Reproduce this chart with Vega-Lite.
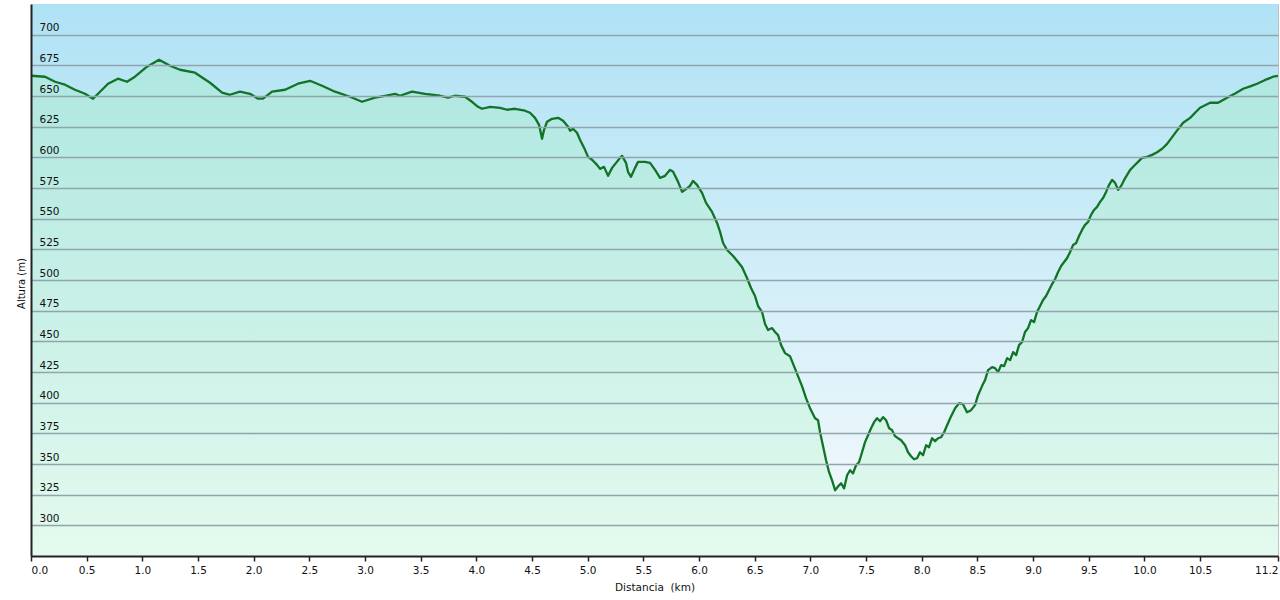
{
  "$schema": "https://vega.github.io/schema/vega-lite/v6.json",
  "width": 1247,
  "height": 552,
  "autosize": {"type": "none"},
  "padding": {"left": 31, "top": 4, "right": 2, "bottom": 44},
  "background": "white",
  "config": {"view": {"stroke": "#b9c3c7", "strokeWidth": 1}, "font": "DejaVu Sans"},
  "datasets": {
    "profile": [
      {"d": 0.0, "h": 666.5}, {"d": 0.126, "h": 665.7}, {"d": 0.216, "h": 661.6}, {"d": 0.305, "h": 659.2},
      {"d": 0.395, "h": 655.1}, {"d": 0.485, "h": 651.8}, {"d": 0.557, "h": 647.8}, {"d": 0.62, "h": 653.5},
      {"d": 0.692, "h": 660.0}, {"d": 0.781, "h": 664.1}, {"d": 0.862, "h": 661.6}, {"d": 0.934, "h": 665.7},
      {"d": 1.042, "h": 673.9}, {"d": 1.15, "h": 679.6}, {"d": 1.249, "h": 674.7}, {"d": 1.338, "h": 671.4},
      {"d": 1.473, "h": 669.0}, {"d": 1.608, "h": 660.8}, {"d": 1.716, "h": 652.7}, {"d": 1.787, "h": 651.0},
      {"d": 1.877, "h": 653.5}, {"d": 1.967, "h": 651.8}, {"d": 2.039, "h": 647.8}, {"d": 2.084, "h": 647.8},
      {"d": 2.165, "h": 653.5}, {"d": 2.282, "h": 655.1}, {"d": 2.398, "h": 660.0}, {"d": 2.506, "h": 662.4},
      {"d": 2.614, "h": 658.4}, {"d": 2.731, "h": 653.5}, {"d": 2.865, "h": 649.4}, {"d": 2.973, "h": 645.3},
      {"d": 3.09, "h": 648.6}, {"d": 3.18, "h": 650.2}, {"d": 3.27, "h": 651.8}, {"d": 3.314, "h": 650.2},
      {"d": 3.422, "h": 653.5}, {"d": 3.539, "h": 651.8}, {"d": 3.674, "h": 650.2}, {"d": 3.746, "h": 648.6},
      {"d": 3.808, "h": 650.2}, {"d": 3.898, "h": 649.4}, {"d": 3.961, "h": 645.3}, {"d": 4.015, "h": 641.2},
      {"d": 4.051, "h": 639.6}, {"d": 4.123, "h": 641.2}, {"d": 4.213, "h": 640.4}, {"d": 4.276, "h": 638.8},
      {"d": 4.347, "h": 639.6}, {"d": 4.437, "h": 638.0}, {"d": 4.482, "h": 636.3}, {"d": 4.527, "h": 632.2},
      {"d": 4.563, "h": 626.5}, {"d": 4.59, "h": 615.1}, {"d": 4.608, "h": 622.4}, {"d": 4.635, "h": 629.0},
      {"d": 4.68, "h": 631.4}, {"d": 4.734, "h": 632.2}, {"d": 4.779, "h": 629.8}, {"d": 4.824, "h": 624.9},
      {"d": 4.842, "h": 621.6}, {"d": 4.868, "h": 623.3}, {"d": 4.904, "h": 620.0}, {"d": 4.931, "h": 614.3},
      {"d": 4.976, "h": 606.1}, {"d": 5.003, "h": 600.4}, {"d": 5.039, "h": 598.0}, {"d": 5.084, "h": 593.9},
      {"d": 5.111, "h": 590.6}, {"d": 5.147, "h": 592.2}, {"d": 5.183, "h": 584.9}, {"d": 5.219, "h": 591.4},
      {"d": 5.255, "h": 595.5}, {"d": 5.291, "h": 599.6}, {"d": 5.309, "h": 601.2}, {"d": 5.344, "h": 595.5},
      {"d": 5.362, "h": 588.2}, {"d": 5.389, "h": 584.1}, {"d": 5.425, "h": 591.4}, {"d": 5.452, "h": 596.3},
      {"d": 5.515, "h": 596.3}, {"d": 5.56, "h": 595.5}, {"d": 5.605, "h": 589.8}, {"d": 5.65, "h": 583.3},
      {"d": 5.695, "h": 584.9}, {"d": 5.74, "h": 589.8}, {"d": 5.767, "h": 588.2}, {"d": 5.812, "h": 580.0},
      {"d": 5.848, "h": 571.8}, {"d": 5.874, "h": 573.5}, {"d": 5.919, "h": 576.7}, {"d": 5.946, "h": 580.8},
      {"d": 5.982, "h": 577.6}, {"d": 6.027, "h": 571.0}, {"d": 6.063, "h": 562.9}, {"d": 6.117, "h": 555.5},
      {"d": 6.162, "h": 546.5}, {"d": 6.189, "h": 539.2}, {"d": 6.216, "h": 530.2}, {"d": 6.252, "h": 524.5},
      {"d": 6.306, "h": 519.6}, {"d": 6.35, "h": 514.7}, {"d": 6.386, "h": 510.6}, {"d": 6.431, "h": 501.6},
      {"d": 6.467, "h": 493.5}, {"d": 6.503, "h": 486.9}, {"d": 6.53, "h": 478.8}, {"d": 6.566, "h": 473.9},
      {"d": 6.593, "h": 464.1}, {"d": 6.62, "h": 459.2}, {"d": 6.656, "h": 460.8}, {"d": 6.683, "h": 457.6},
      {"d": 6.71, "h": 455.1}, {"d": 6.737, "h": 446.9}, {"d": 6.773, "h": 440.4}, {"d": 6.817, "h": 437.9},
      {"d": 6.853, "h": 429.8}, {"d": 6.889, "h": 421.6}, {"d": 6.925, "h": 413.5}, {"d": 6.961, "h": 403.7},
      {"d": 6.997, "h": 395.5}, {"d": 7.042, "h": 387.3}, {"d": 7.069, "h": 385.7}, {"d": 7.087, "h": 375.9},
      {"d": 7.114, "h": 364.5}, {"d": 7.141, "h": 353.1}, {"d": 7.168, "h": 343.3}, {"d": 7.195, "h": 336.7},
      {"d": 7.222, "h": 328.6}, {"d": 7.249, "h": 331.8}, {"d": 7.276, "h": 334.3}, {"d": 7.303, "h": 330.2},
      {"d": 7.33, "h": 340.8}, {"d": 7.356, "h": 344.9}, {"d": 7.383, "h": 342.4}, {"d": 7.41, "h": 349.0},
      {"d": 7.437, "h": 351.4}, {"d": 7.464, "h": 359.6}, {"d": 7.491, "h": 367.8}, {"d": 7.518, "h": 373.5},
      {"d": 7.545, "h": 379.2}, {"d": 7.572, "h": 384.1}, {"d": 7.599, "h": 387.3}, {"d": 7.626, "h": 384.9},
      {"d": 7.653, "h": 388.2}, {"d": 7.68, "h": 385.7}, {"d": 7.707, "h": 379.2}, {"d": 7.734, "h": 377.6},
      {"d": 7.761, "h": 372.7}, {"d": 7.788, "h": 371.0}, {"d": 7.815, "h": 369.4}, {"d": 7.851, "h": 365.3},
      {"d": 7.877, "h": 359.6}, {"d": 7.904, "h": 356.3}, {"d": 7.931, "h": 353.9}, {"d": 7.958, "h": 354.7},
      {"d": 7.985, "h": 359.6}, {"d": 8.012, "h": 357.1}, {"d": 8.039, "h": 365.3}, {"d": 8.066, "h": 363.7},
      {"d": 8.093, "h": 371.0}, {"d": 8.12, "h": 368.6}, {"d": 8.147, "h": 371.0}, {"d": 8.174, "h": 371.8},
      {"d": 8.201, "h": 375.9}, {"d": 8.228, "h": 381.6}, {"d": 8.264, "h": 389.0}, {"d": 8.3, "h": 395.5},
      {"d": 8.336, "h": 399.6}, {"d": 8.371, "h": 398.8}, {"d": 8.407, "h": 392.2}, {"d": 8.443, "h": 393.9},
      {"d": 8.479, "h": 398.0}, {"d": 8.506, "h": 406.1}, {"d": 8.542, "h": 413.5}, {"d": 8.569, "h": 418.4},
      {"d": 8.596, "h": 426.5}, {"d": 8.632, "h": 429.0}, {"d": 8.659, "h": 428.2}, {"d": 8.686, "h": 424.9},
      {"d": 8.713, "h": 430.6}, {"d": 8.74, "h": 429.8}, {"d": 8.767, "h": 436.3}, {"d": 8.794, "h": 434.7},
      {"d": 8.821, "h": 441.2}, {"d": 8.848, "h": 438.8}, {"d": 8.874, "h": 446.9}, {"d": 8.901, "h": 449.4},
      {"d": 8.928, "h": 457.6}, {"d": 8.955, "h": 460.8}, {"d": 8.982, "h": 467.3}, {"d": 9.009, "h": 465.7},
      {"d": 9.036, "h": 473.9}, {"d": 9.063, "h": 478.8}, {"d": 9.09, "h": 483.7}, {"d": 9.117, "h": 486.9},
      {"d": 9.144, "h": 491.8}, {"d": 9.171, "h": 496.7}, {"d": 9.198, "h": 500.8}, {"d": 9.225, "h": 506.5},
      {"d": 9.252, "h": 511.4}, {"d": 9.279, "h": 514.7}, {"d": 9.306, "h": 517.9}, {"d": 9.333, "h": 522.9},
      {"d": 9.36, "h": 528.6}, {"d": 9.387, "h": 530.2}, {"d": 9.413, "h": 535.9}, {"d": 9.44, "h": 540.8},
      {"d": 9.467, "h": 544.9}, {"d": 9.494, "h": 547.3}, {"d": 9.521, "h": 553.1}, {"d": 9.548, "h": 557.1},
      {"d": 9.575, "h": 559.6}, {"d": 9.602, "h": 563.7}, {"d": 9.629, "h": 566.9}, {"d": 9.656, "h": 571.8},
      {"d": 9.683, "h": 577.6}, {"d": 9.71, "h": 581.6}, {"d": 9.737, "h": 579.2}, {"d": 9.764, "h": 573.5},
      {"d": 9.791, "h": 576.7}, {"d": 9.818, "h": 581.6}, {"d": 9.845, "h": 585.7}, {"d": 9.872, "h": 589.8},
      {"d": 9.908, "h": 593.1}, {"d": 9.943, "h": 596.3}, {"d": 9.979, "h": 599.6}, {"d": 10.024, "h": 600.4},
      {"d": 10.069, "h": 602.0}, {"d": 10.114, "h": 604.1}, {"d": 10.159, "h": 607.0}, {"d": 10.204, "h": 611.0},
      {"d": 10.249, "h": 616.5}, {"d": 10.294, "h": 622.0}, {"d": 10.348, "h": 628.2}, {"d": 10.411, "h": 632.2},
      {"d": 10.455, "h": 636.3}, {"d": 10.5, "h": 640.4}, {"d": 10.59, "h": 644.5}, {"d": 10.662, "h": 644.5},
      {"d": 10.743, "h": 648.6}, {"d": 10.815, "h": 652.0}, {"d": 10.887, "h": 655.9}, {"d": 10.95, "h": 657.8},
      {"d": 11.012, "h": 660.0}, {"d": 11.08, "h": 662.9}, {"d": 11.156, "h": 665.7}, {"d": 11.2, "h": 666.5}
    ]
  },
  "layer": [
    {
      "data": {"values": [{}]},
      "mark": {
        "type": "rect",
        "fill": {"gradient": "linear", "x1": 0, "y1": 0, "x2": 0, "y2": 1,
          "stops": [{"offset": 0, "color": "#afe2f5"}, {"offset": 0.85, "color": "#ecf7fb"}, {"offset": 1, "color": "#f2fafc"}]}
      },
      "encoding": {
        "x": {"datum": 0, "type": "quantitative", "title": "Distancia\u00a0 (km)", "scale": {"domain": [0, 11.2], "nice": false, "zero": false}},
        "x2": {"datum": 11.2},
        "y": {"datum": 275, "type": "quantitative", "title": "Altura (m)", "scale": {"domain": [275, 725], "nice": false, "zero": false}},
        "y2": {"datum": 725}
      }
    },
    {
      "data": {"name": "profile"},
      "mark": {
        "type": "area",
        "fill": {"gradient": "linear", "x1": 0, "y1": 0, "x2": 0, "y2": 1,
          "stops": [{"offset": 0, "color": "#aee7e0"}, {"offset": 1, "color": "#e4faee"}]}
      },
      "encoding": {
        "x": {"field": "d", "type": "quantitative", "title": "Distancia\u00a0 (km)"},
        "y": {"field": "h", "type": "quantitative", "title": "Altura (m)"},
        "y2": {"datum": 275}
      }
    },
    {
      "data": {"name": "profile"},
      "mark": {"type": "line", "stroke": "#117326", "strokeWidth": 2.3, "strokeJoin": "round"},
      "encoding": {
        "x": {
          "field": "d", "type": "quantitative", "title": "Distancia\u00a0 (km)",
          "axis": {
            "values": [0, 0.5, 1, 1.5, 2, 2.5, 3, 3.5, 4, 4.5, 5, 5.5, 6, 6.5, 7, 7.5, 8, 8.5, 9, 9.5, 10, 10.5, 11.2],
            "format": ".1f", "title": "Distancia\u00a0 (km)", "grid": false,
            "tickSize": 5, "tickColor": "#222", "tickWidth": 1.5,
            "domainColor": "#222", "domainWidth": 2,
            "labelFontSize": 10.5, "labelColor": "#111", "labelPadding": 4, "labelOverlap": false,
            "titleFontSize": 10.5, "titleFontWeight": "normal", "titleColor": "#111", "titlePadding": 7,
            "zindex": 1
          }
        },
        "y": {
          "field": "h", "type": "quantitative", "title": "Altura (m)",
          "axis": {
            "values": [300, 325, 350, 375, 400, 425, 450, 475, 500, 525, 550, 575, 600, 625, 650, 675, 700],
            "tickCount": 18,
            "title": "Altura (m)", "grid": true, "gridColor": "#90a5ac", "gridWidth": 1.5,
            "ticks": false, "tickSize": 0,
            "labelAlign": "left", "labelPadding": -8, "labelBaseline": "alphabetic", "labelOffset": -4,
            "labelOverlap": false,
            "labelFontSize": 10.5, "labelColor": "#111",
            "domainColor": "#222", "domainWidth": 2,
            "titleFontSize": 10, "titleFontWeight": "normal", "titleColor": "#111",
            "titleX": -5, "titleY": 279, "titleAngle": 270, "titleBaseline": "bottom", "titleAlign": "center",
            "zindex": 1
          }
        }
      }
    }
  ]
}
